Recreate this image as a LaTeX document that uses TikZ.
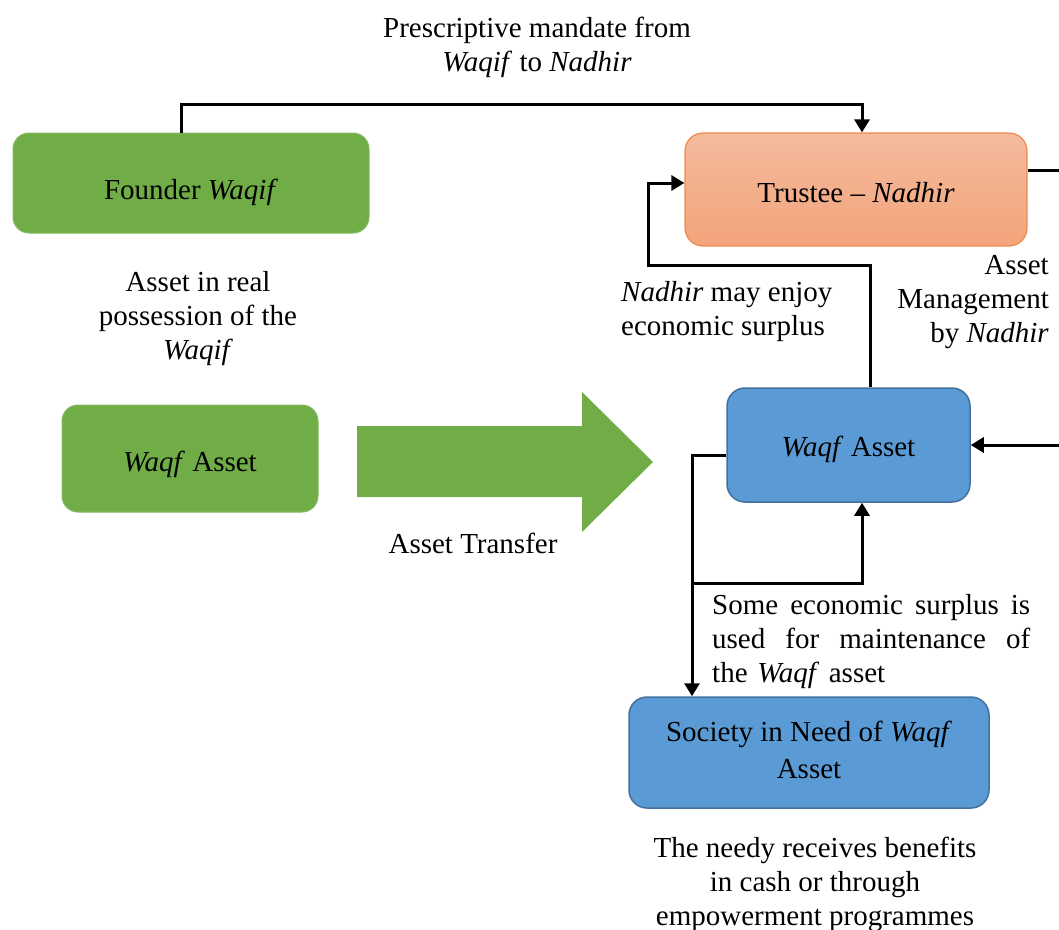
\documentclass[tikz,border=0pt]{standalone}
\usepackage{fontspec}
\setmainfont{Liberation Serif}
\usetikzlibrary{arrows.meta,calc}
\definecolor{gfill}{HTML}{70AD47}
\definecolor{bfill}{HTML}{5B9BD5}
\definecolor{bline}{HTML}{41719C}
\definecolor{otop}{HTML}{F4BA9D}
\definecolor{obot}{HTML}{F3A47B}
\definecolor{oline}{HTML}{EE8A48}
\newcommand{\lowr}[2]{\raisebox{-#1}[\height][\depth]{#2}}
\tikzset{
  every node/.style={font=\fontsize{29}{34}\selectfont},
  greenbox/.style={rounded corners=16pt, fill=gfill, draw=gfill!85!white, line width=1pt, align=center},
  bluebox/.style={rounded corners=18pt, fill=bfill, draw=bline, line width=1.5pt, align=center},
  orangebox/.style={rounded corners=18pt, top color=otop, bottom color=obot, draw=oline, line width=1.2pt, align=center},
  conn/.style={line width=3pt, draw=black},
  arr/.style={conn, -{Triangle[length=13pt,width=15pt]}},
  lbl/.style={align=center, inner sep=0pt}
}
\begin{document}
\begin{tikzpicture}[x=1pt,y=-1pt]
\useasboundingbox (0,0) rectangle (1059,929);
\clip (0,0) rectangle (1059,929);
% boxes
\node[greenbox, minimum width=356pt, minimum height=100pt] (founder) at (191,183) {\lowr{9pt}{Founder \textit{Waqif}}};
\node[orangebox, minimum width=342pt, minimum height=113pt] (trustee) at (856,189.5) {\lowr{3pt}{Trustee -- \textit{Nadhir}}};
\node[greenbox, minimum width=256pt, minimum height=107pt] (gasset) at (190,458.5) {\lowr{6pt}{\textit{Waqf} Asset}};
\node[bluebox, minimum width=243pt, minimum height=114pt] (wasset) at (848.5,445) {\lowr{4pt}{\textit{Waqf} Asset}};
\node[bluebox, minimum width=360pt, minimum height=111pt] (society) at (809,752.5) {\raisebox{3pt}[\height][\depth]{Society in Need of \textit{Waqf}}\\[3pt]\raisebox{3pt}[\height][\depth]{Asset}};
% big arrow
\fill[gfill] (357,426) -- (582,426) -- (582,392) -- (653,462) -- (582,532) -- (582,497) -- (357,497) -- cycle;
% labels
\node[lbl] (lmandate) at (537,47.5) {Prescriptive mandate from\\\textit{Waqif} to \textit{Nadhir}};
\node[lbl] (lreal) at (198,319) {Asset in real\\possession of the\\\textit{Waqif}};
\node[lbl] (ltransfer) at (473,543) {Asset Transfer};
\node[lbl, align=left, anchor=west] (lenjoy) at (621,312) {\textit{Nadhir} may enjoy\\economic surplus};
\node[lbl, align=right, anchor=east] (lmanage) at (1049,302) {Asset\\Management\\by \textit{Nadhir}};
\node[lbl, align=left, anchor=north west, text width=318pt] (lmaint) at (712,594) {\leavevmode\hbox to 318pt{Some\hfill economic\hfill surplus\hfill is}\\\leavevmode\hbox to 318pt{used\hfill for\hfill maintenance\hfill of}\\the \textit{Waqf} asset};
\node[lbl] (lneedy) at (815,884) {The needy receives benefits\\in cash or through\\empowerment programmes};
% coordinates
\coordinate (rt) at (1080,170);
\coordinate (rb) at (1080,445);
\coordinate (mj) at (692,583);
% connectors
\draw[arr] ([xshift=-10pt]founder.north) |- (862,104) -- ([xshift=6pt]trustee.north);
\draw[conn] ([yshift=19.5pt]trustee.east) -- (rt) -- (rb);
\draw[arr] (rb) -- (wasset.east);
\draw[arr] ([xshift=21.5pt]wasset.north) |- (648,265) |- ([yshift=6.5pt]trustee.west);
\draw[arr] ([yshift=-10pt]wasset.west) -| ([xshift=-117pt]society.north);
\draw[arr] (mj) -| ([xshift=13.5pt]wasset.south);
\end{tikzpicture}
\end{document}
